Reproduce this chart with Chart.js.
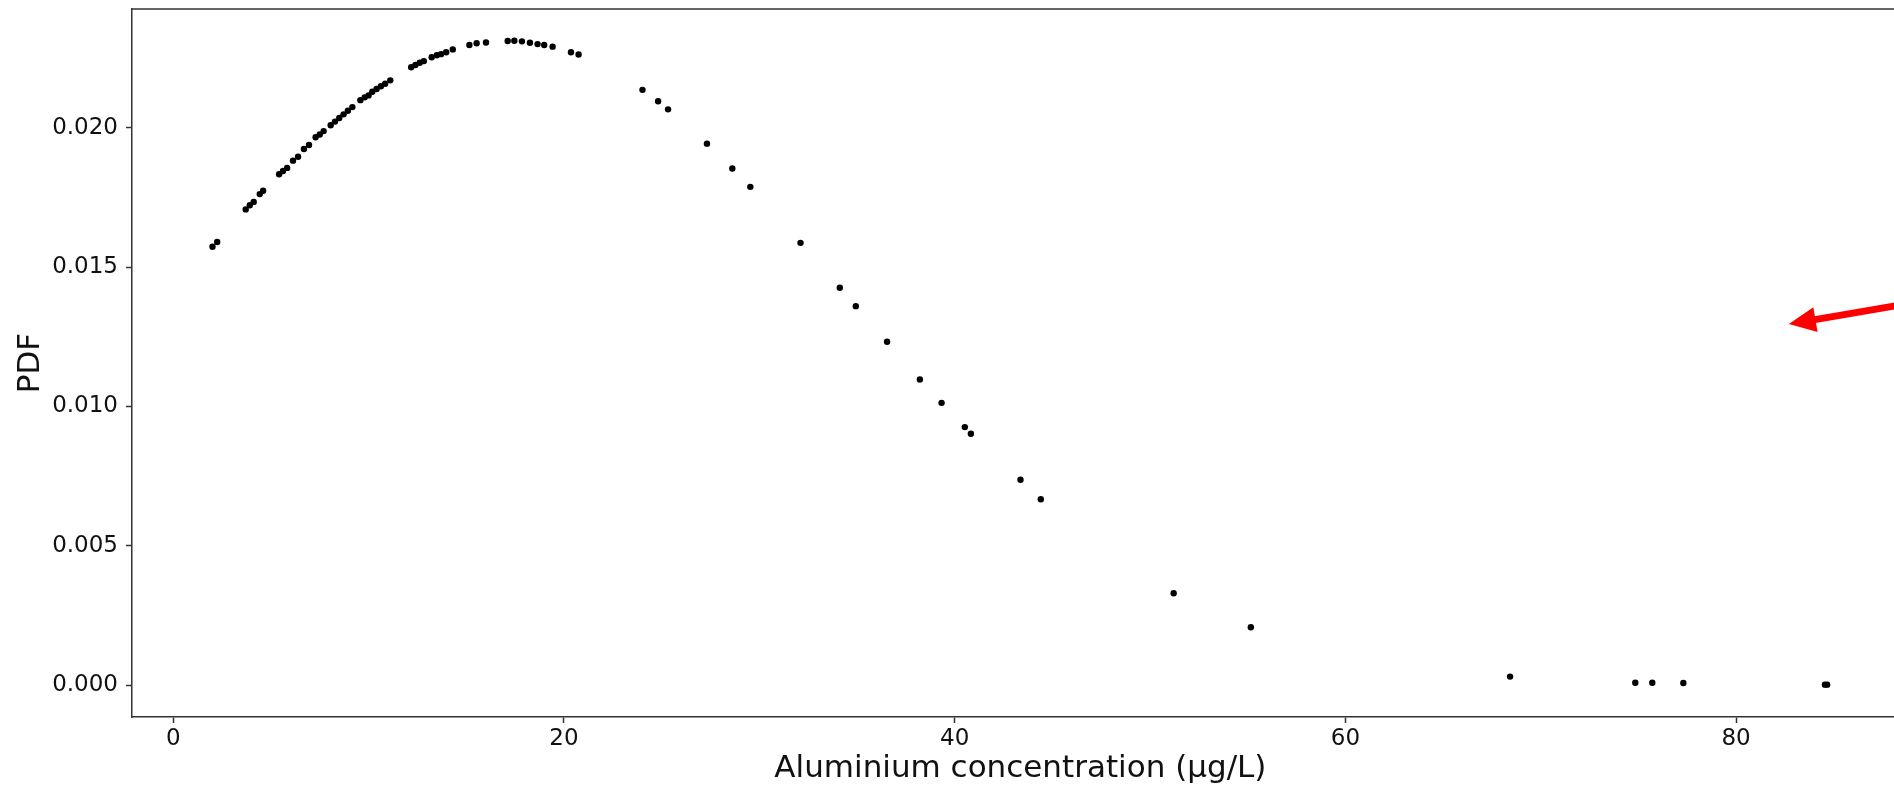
<!DOCTYPE html>
<html>
<head>
<meta charset="utf-8">
<title>Aluminium concentration PDF</title>
<script src="https://cdn.jsdelivr.net/npm/chart.js@4/dist/chart.umd.min.js"></script>
<style>
  html, body { margin: 0; padding: 0; background: #fff; overflow: hidden; }
  #wrap { width: 1912px; height: 791px; }
</style>
</head>
<body>
<div id="wrap"><canvas id="pdfChart" width="1912" height="791"></canvas></div>
<script>
// Aluminium concentration (µg/L) and fitted probability density
const concentration = [
  2.01, 2.25, 3.71, 3.92, 4.12, 4.43, 4.60, 5.42, 5.62, 5.83,
  6.13, 6.39, 6.69, 6.95, 7.29, 7.50, 7.70, 8.06, 8.28, 8.50,
  8.72, 8.94, 9.17, 9.58, 9.80, 10.00, 10.19, 10.41, 10.63, 10.85,
  11.11, 12.18, 12.40, 12.62, 12.83, 13.23, 13.49, 13.71, 13.97, 14.31,
  15.16, 15.53, 16.01, 17.12, 17.46, 17.85, 18.26, 18.65, 18.99, 19.42,
  20.36, 20.75, 24.02, 24.82, 25.33, 27.32, 28.62, 29.54, 32.11, 34.12,
  34.94, 36.54, 38.22, 39.33, 40.52, 40.83, 43.37, 44.41, 51.21, 55.16,
  68.43, 74.84, 75.71, 77.30, 84.55, 84.66
];
const pdfValues = [
  0.01573, 0.01590, 0.01707, 0.01722, 0.01734, 0.01762, 0.01774, 0.01833, 0.01845, 0.01856,
  0.01882, 0.01896, 0.01924, 0.01938, 0.01966, 0.01976, 0.01988, 0.02009, 0.02022, 0.02035,
  0.02048, 0.02061, 0.02074, 0.02099, 0.02109, 0.02116, 0.02129, 0.02139, 0.02149, 0.02158,
  0.02170, 0.02217, 0.02225, 0.02233, 0.02239, 0.02253, 0.02260, 0.02264, 0.02271, 0.02281,
  0.02297, 0.02303, 0.02306, 0.02311, 0.02312, 0.02310, 0.02305, 0.02300, 0.02297, 0.02291,
  0.02271, 0.02263, 0.02136, 0.02095, 0.02066, 0.01943, 0.01854, 0.01788, 0.01587, 0.01426,
  0.01360, 0.01232, 0.01097, 0.01013, 0.00926, 0.00902, 0.00737, 0.00667, 0.00330, 0.00208,
  0.00031, 0.00009, 0.00009, 0.00008, 0.00002, 0.00002
];

const xTicks = [0, 20, 40, 60, 80];
const yTicks = [0.000, 0.005, 0.010, 0.015, 0.020];

// red pointer arrow, in data units: [x, y]
const arrowTail = [92.0, 0.01407];
const arrowTip = [82.70, 0.012955];

const FONT = 'DejaVu Sans';
const AXIS_COLOR = '#333333';

const points = concentration.map((c, i) => ({ x: c, y: pdfValues[i] }));

// top spine (bottom and left come from the scales)
const frameLines = {
  id: 'frameLines',
  afterDraw(chart) {
    const { ctx, chartArea } = chart;
    ctx.save();
    ctx.strokeStyle = AXIS_COLOR;
    ctx.lineWidth = 1.5;
    ctx.beginPath();
    ctx.moveTo(chartArea.left, chartArea.top);
    ctx.lineTo(chartArea.right, chartArea.top);
    ctx.stroke();
    ctx.restore();
  }
};

const redArrow = {
  id: 'redArrow',
  afterDraw(chart) {
    const { ctx, scales } = chart;
    const x0 = scales.x.getPixelForValue(arrowTail[0]);
    const y0 = scales.y.getPixelForValue(arrowTail[1]);
    const x1 = scales.x.getPixelForValue(arrowTip[0]);
    const y1 = scales.y.getPixelForValue(arrowTip[1]);
    const ang = Math.atan2(y1 - y0, x1 - x0);
    const headLen = 27, headHalf = 12.5;
    const bx = x1 - headLen * Math.cos(ang);
    const by = y1 - headLen * Math.sin(ang);
    ctx.save();
    ctx.strokeStyle = '#ff0000';
    ctx.fillStyle = '#ff0000';
    ctx.lineWidth = 7;
    ctx.beginPath();
    ctx.moveTo(x0, y0);
    ctx.lineTo(bx + 2 * Math.cos(ang), by + 2 * Math.sin(ang));
    ctx.stroke();
    ctx.beginPath();
    ctx.moveTo(x1, y1);
    ctx.lineTo(bx - headHalf * Math.sin(ang), by + headHalf * Math.cos(ang));
    ctx.lineTo(bx + headHalf * Math.sin(ang), by - headHalf * Math.cos(ang));
    ctx.closePath();
    ctx.fill();
    ctx.restore();
  }
};

new Chart(document.getElementById('pdfChart').getContext('2d'), {
  type: 'scatter',
  data: {
    datasets: [{
      data: points,
      backgroundColor: '#000000',
      borderWidth: 0,
      pointRadius: 3.2,
      pointHoverRadius: 3.2
    }]
  },
  options: {
    responsive: false,
    devicePixelRatio: 1,
    animation: false,
    layout: { padding: { top: 9, right: 0, left: 0, bottom: 0 } },
    plugins: {
      legend: { display: false },
      tooltip: { enabled: false }
    },
    scales: {
      x: {
        type: 'linear',
        min: -2.11,
        max: 88.84,
        afterFit: (s) => { s.height = 74; s.paddingLeft = 0; s.paddingRight = 0; },
        afterBuildTicks: (s) => { s.ticks = xTicks.map(v => ({ value: v })); },
        border: { display: true, color: AXIS_COLOR, width: 1.5 },
        grid: { display: true, drawOnChartArea: false, drawTicks: true, tickLength: 6, tickColor: AXIS_COLOR, tickWidth: 1.5 },
        ticks: {
          color: '#111',
          font: { family: FONT, size: 23 },
          padding: 2,
          maxRotation: 0,
          callback: (v) => String(v)
        },
        title: {
          display: true,
          text: 'Aluminium concentration (µg/L)',
          color: '#111',
          font: { family: FONT, size: 31 },
          padding: { top: 0, bottom: 3 }
        }
      },
      y: {
        type: 'linear',
        min: -0.00114,
        max: 0.02426,
        afterFit: (s) => { s.width = 132; s.paddingTop = 0; s.paddingBottom = 0; },
        afterBuildTicks: (s) => { s.ticks = yTicks.map(v => ({ value: v })); },
        border: { display: true, color: AXIS_COLOR, width: 1.5 },
        grid: { display: true, drawOnChartArea: false, drawTicks: true, tickLength: 6, tickColor: AXIS_COLOR, tickWidth: 1.5 },
        ticks: {
          color: '#111',
          font: { family: FONT, size: 23 },
          padding: 8,
          callback: (v) => Number(v).toFixed(3)
        },
        title: {
          display: true,
          text: 'PDF',
          color: '#111',
          font: { family: FONT, size: 31 },
          padding: { top: 12, bottom: 0 }
        }
      }
    }
  },
  plugins: [frameLines, redArrow]
});
</script>
</body>
</html>
